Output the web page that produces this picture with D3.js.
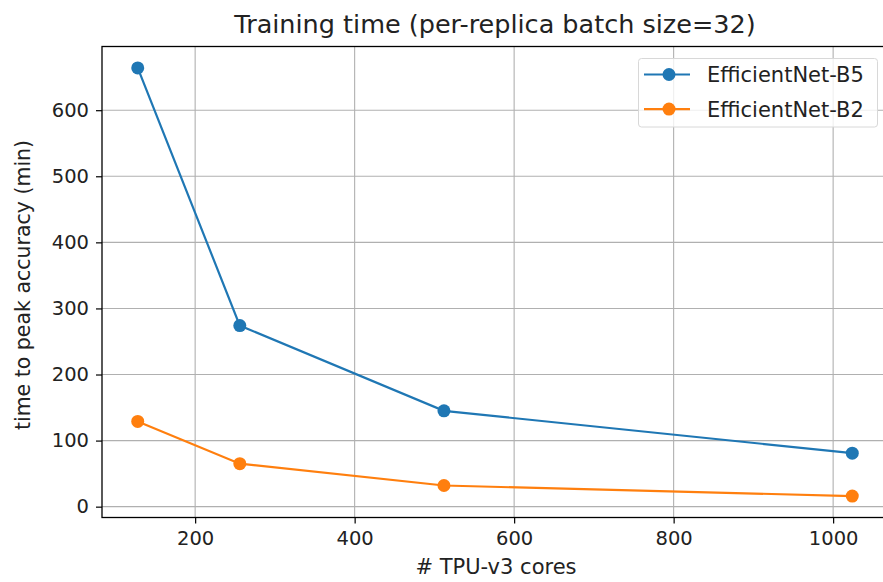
<!DOCTYPE html>
<html><head><meta charset="utf-8">
<script src="https://cdn.jsdelivr.net/npm/d3@7"></script>
<style>body{margin:0;background:#fff}svg{display:block}text{font-family:"DejaVu Sans",sans-serif;fill:#222}</style>
</head><body><svg id="c" width="883" height="582"></svg>
<script>
const cores = [128, 256, 512, 1024];
const b5 = [664, 274, 145, 81];
const b2 = [129, 65, 32, 16];
const seriesNames = ["EfficientNet-B5", "EfficientNet-B2"];
const xTicks = [200, 400, 600, 800, 1000];
const yTicks = [0, 100, 200, 300, 400, 500, 600];
const colors = ["#1f77b4", "#ff7f0e"];

const svg = d3.select("#c");
const L = 102, R = 888, T = 46.5, B = 517.5;
const x = d3.scaleLinear().domain([83.2, 1068.8]).range([L, R]);
const y = d3.scaleLinear().domain([-16.4, 696.4]).range([B, T]);

const g = svg.append("g");
g.selectAll(".gx").data(xTicks).enter().append("line")
  .attr("x1", d => x(d)).attr("x2", d => x(d)).attr("y1", T).attr("y2", B)
  .attr("stroke", "#b0b0b0").attr("stroke-width", 1.1);
g.selectAll(".gy").data(yTicks).enter().append("line")
  .attr("y1", d => y(d)).attr("y2", d => y(d)).attr("x1", L).attr("x2", R)
  .attr("stroke", "#b0b0b0").attr("stroke-width", 1.1);

const xAxis = d3.axisBottom(x).tickValues(xTicks).tickFormat(d3.format("d")).tickSize(6).tickPadding(8);
const yAxis = d3.axisLeft(y).tickValues(yTicks).tickFormat(d3.format("d")).tickSize(6).tickPadding(7);
const gx = svg.append("g").attr("transform", `translate(0,${B})`).call(xAxis);
const gy = svg.append("g").attr("transform", `translate(${L},0)`).call(yAxis);
[gx, gy].forEach(a => {
  a.select(".domain").remove();
  a.selectAll("line").attr("stroke", "#000").attr("stroke-width", 1.2);
  a.selectAll("text").style("font-size", "19.5px").attr("fill", "#222");
});
svg.append("rect").attr("x", L).attr("y", T).attr("width", R - L).attr("height", B - T)
  .attr("fill", "none").attr("stroke", "#000").attr("stroke-width", 1.3);

[b5, b2].forEach((vals, i) => {
  const pts = cores.map((c, j) => [c, vals[j]]);
  svg.append("path").datum(pts)
    .attr("d", d3.line().x(d => x(d[0])).y(d => y(d[1])))
    .attr("fill", "none").attr("stroke", colors[i]).attr("stroke-width", 2.2);
  svg.selectAll(".m" + i).data(pts).enter().append("circle")
    .attr("cx", d => x(d[0])).attr("cy", d => y(d[1])).attr("r", 6.5)
    .attr("fill", colors[i]);
});

const lg = svg.append("g");
lg.append("rect").attr("x", 638.5).attr("y", 58.5).attr("width", 239).attr("height", 68.5)
  .attr("rx", 3).attr("fill", "rgba(255,255,255,0.8)").attr("stroke", "#d8d8d8").attr("stroke-width", 1);
seriesNames.forEach((n, i) => {
  const yy = 74.5 + i * 34.6;
  lg.append("line").attr("x1", 644).attr("x2", 690).attr("y1", yy).attr("y2", yy)
    .attr("stroke", colors[i]).attr("stroke-width", 2.2);
  lg.append("circle").attr("cx", 669).attr("cy", yy).attr("r", 6.5).attr("fill", colors[i]);
  lg.append("text").attr("x", 707).attr("y", yy).attr("dy", "0.36em").style("font-size", "21px").text(n);
});

svg.append("text").attr("x", 495).attr("y", 33).attr("text-anchor", "middle")
  .style("font-size", "25.5px").text("Training time (per-replica batch size=32)");
svg.append("text").attr("x", 496).attr("y", 574).attr("text-anchor", "middle")
  .style("font-size", "21px").text("# TPU-v3 cores");
svg.append("text").attr("transform", `translate(30,${(T + B) / 2 + 3}) rotate(-90)`)
  .attr("text-anchor", "middle").style("font-size", "20.5px").text("time to peak accuracy (min)");
</script></body></html>
